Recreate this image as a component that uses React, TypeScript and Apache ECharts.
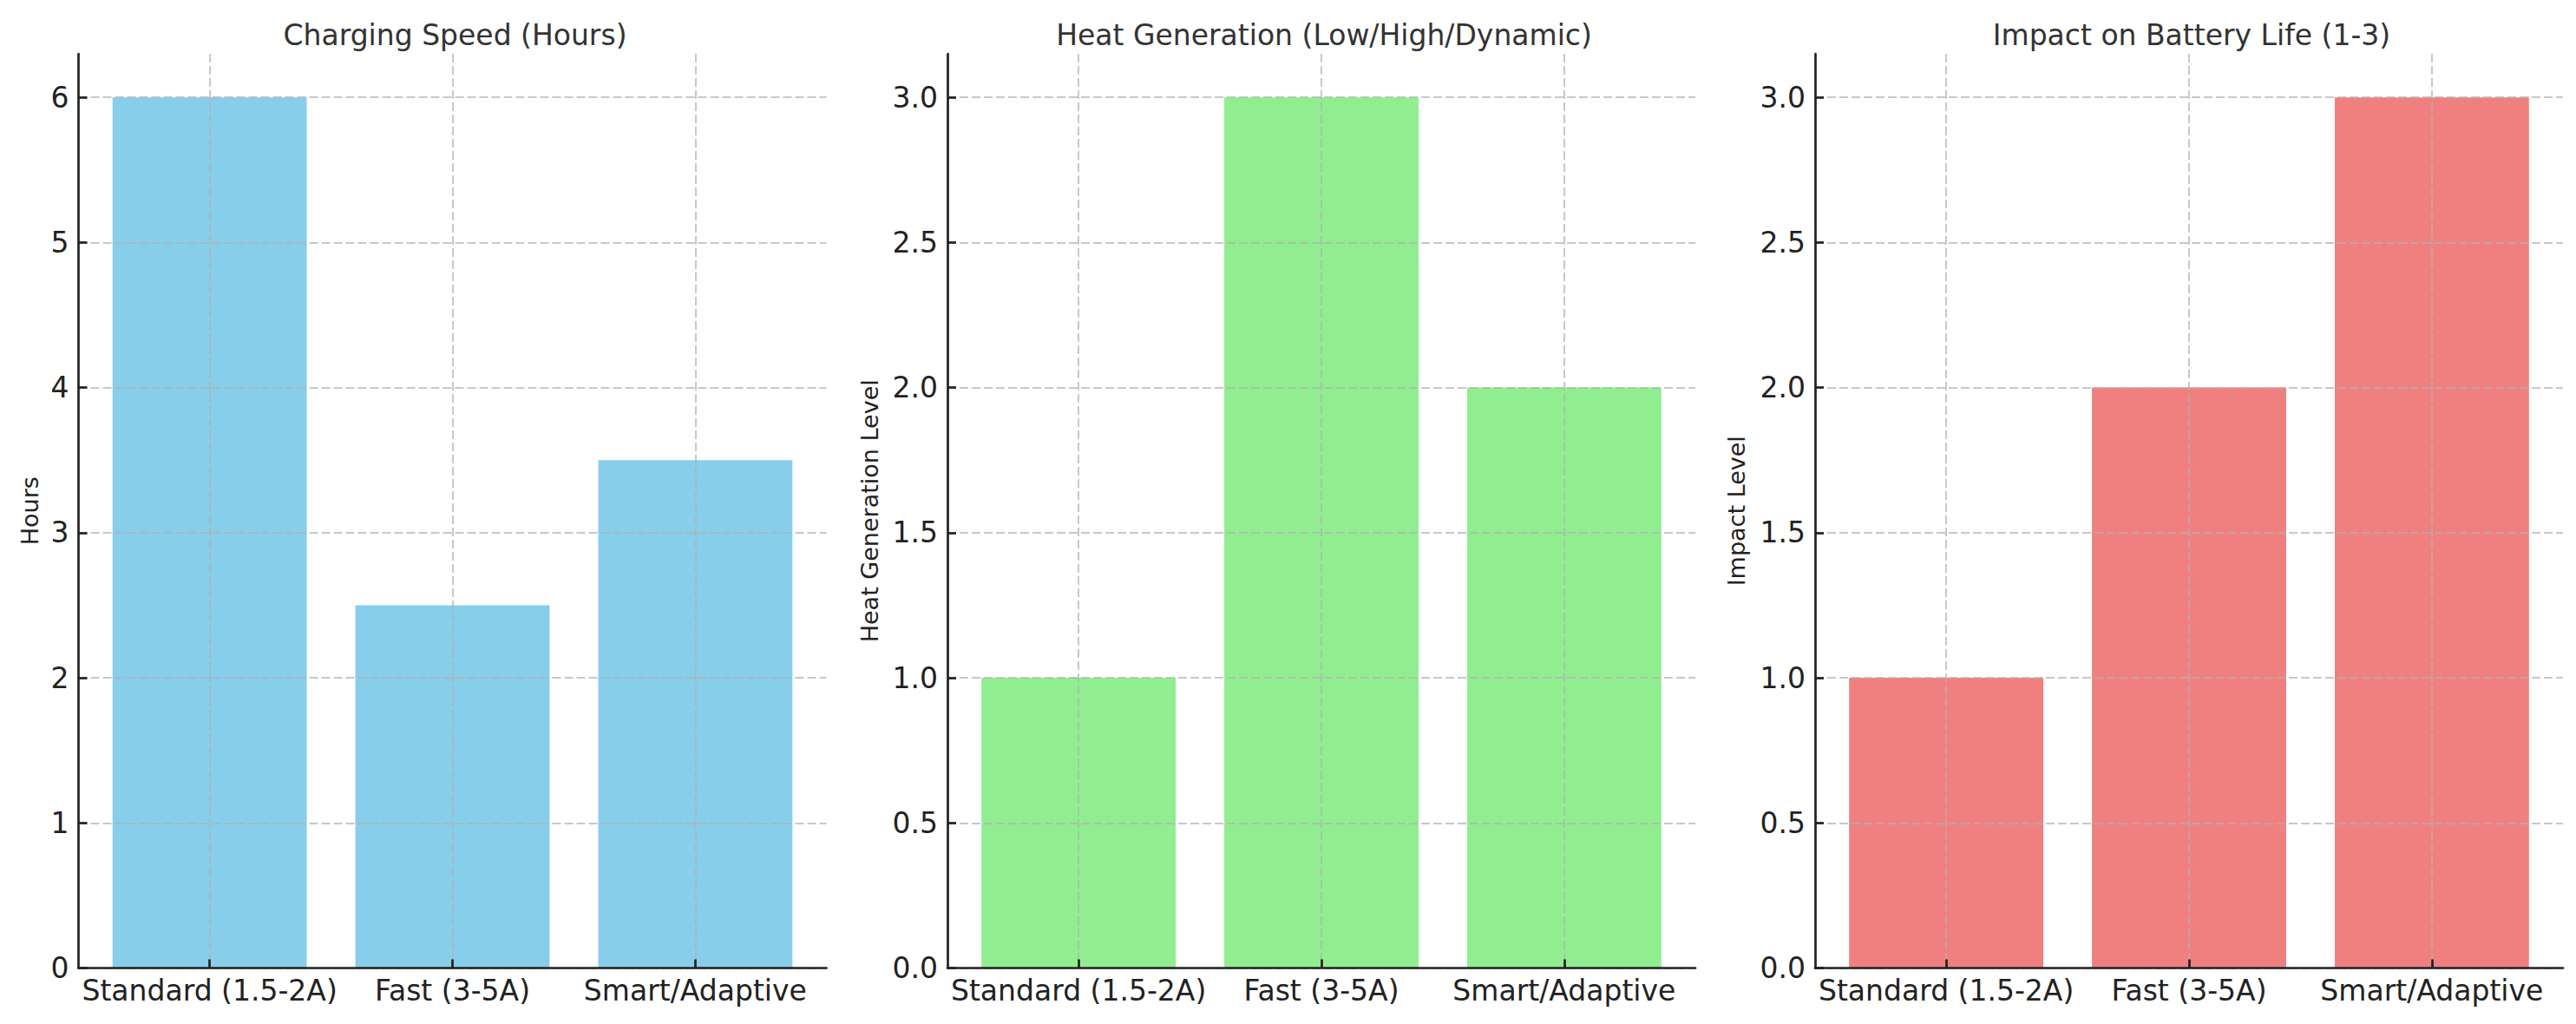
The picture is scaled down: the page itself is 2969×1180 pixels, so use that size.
import React, { useEffect, useRef } from "react";
import * as echarts from "echarts";

const categories = ["Standard (1.5-2A)", "Fast (3-5A)", "Smart/Adaptive"];
const chargingHours = [6, 2.5, 3.5];
const heatLevels = [1, 3, 2];
const impactLevels = [1, 2, 3];
const hourTicks = [0, 1, 2, 3, 4, 5, 6];
const levelTicks = [0, 0.5, 1, 1.5, 2, 2.5, 3];
const categoryTicks = [0, 1, 2];
const panelTitles = [
  "Charging Speed (Hours)",
  "Heat Generation (Low/High/Dynamic)",
  "Impact on Battery Life (1-3)",
];
const yNames = ["Hours", "Heat Generation Level", "Impact Level"];
const barColors = ["#87CEEB", "#90EE90", "#F08080"];

const FONT = "DejaVu Sans";

export default function App() {
  const ref = useRef<HTMLDivElement>(null);
  useEffect(() => {
    document.body.style.margin = "0";
    if (!ref.current) return;
    const chart = echarts.init(ref.current, null, { renderer: "svg" });
    const lefts = [90.5, 1092, 2092];
    const width = 862;
    const top = 62;
    const height = 1053.5;
    const nameGaps = [43, 76, 77];
    const seriesValues = [chargingHours, heatLevels, impactLevels];
    const yMax = [6.3, 3.15, 3.15];
    const yTicks = [hourTicks, levelTicks, levelTicks];
    const gridLine = {
      show: true,
      lineStyle: { color: "rgba(176,176,176,0.7)", width: 2, type: [10, 4] as any },
    };
    const axisLineStyle = { color: "#222", width: 2.7 };

    const option: any = {
      animation: false,
      backgroundColor: "#fff",
      title: panelTitles.map((t, i) => ({
        text: t,
        left: lefts[i] + width / 2 - 2,
        top: 19,
        textAlign: "center",
        textStyle: {
          fontFamily: FONT,
          fontSize: 33,
          fontWeight: "normal",
          color: "#333",
        },
      })),
      grid: lefts.map((l) => ({
        left: l,
        top,
        width,
        height,
        containLabel: false,
        outerBoundsMode: "none",
      })),
      xAxis: lefts.map((_, i) => ({
        type: "value",
        gridIndex: i,
        min: -0.54,
        max: 2.54,
        z: 5,
        axisLine: { show: true, onZero: false, lineStyle: axisLineStyle },
        axisTick: {
          show: true,
          inside: true,
          length: 10,
          customValues: categoryTicks,
          lineStyle: axisLineStyle,
        },
        axisLabel: {
          customValues: categoryTicks,
          formatter: (v: number) => categories[Math.round(v)] ?? "",
          fontFamily: FONT,
          fontSize: 33,
          color: "#222",
          margin: 9,
        },
        splitLine: gridLine,
      })),
      yAxis: lefts.map((_, i) => ({
        type: "value",
        gridIndex: i,
        min: 0,
        max: yMax[i],
        z: 5,
        name: yNames[i],
        nameLocation: "middle",
        nameRotate: 90,
        nameGap: nameGaps[i],
        nameTextStyle: { fontFamily: FONT, fontSize: 27, color: "#222" },
        axisLine: { show: true, onZero: false, lineStyle: axisLineStyle },
        axisTick: {
          show: true,
          inside: true,
          length: 10,
          customValues: yTicks[i],
          lineStyle: axisLineStyle,
        },
        axisLabel: {
          customValues: yTicks[i],
          formatter: (v: number) => (i === 0 ? String(v) : v.toFixed(1)),
          fontFamily: FONT,
          fontSize: 33,
          color: "#222",
          margin: 11,
        },
        splitLine: gridLine,
      })),
      series: seriesValues.map((vals, i) => ({
        type: "bar",
        xAxisIndex: i,
        yAxisIndex: i,
        data: vals.map((v, j) => [j, v]),
        barWidth: "80%",
        itemStyle: { color: barColors[i] },
        z: 1,
      })),
    };
    chart.setOption(option);
    return () => chart.dispose();
  }, []);
  return <div ref={ref} style={{ width: 2969, height: 1180 }} />;
}
